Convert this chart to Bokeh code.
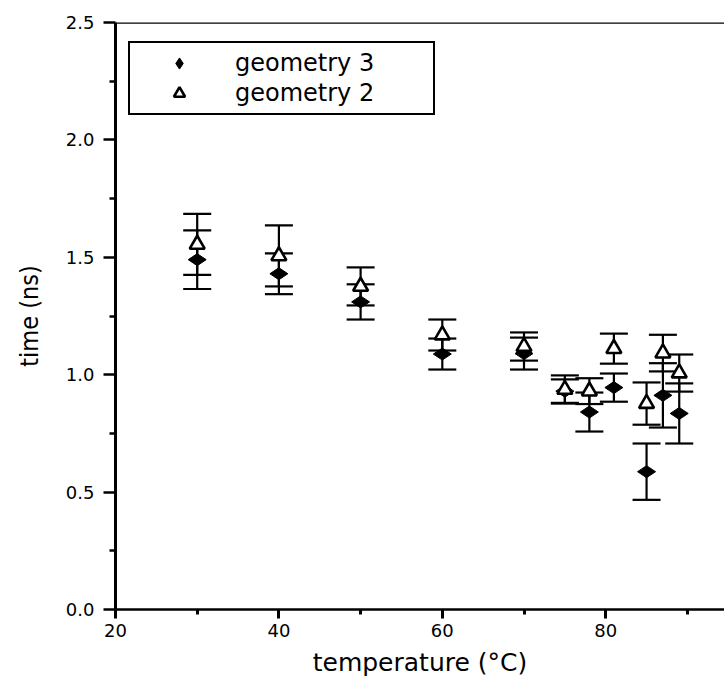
import math
from bokeh.plotting import figure
from bokeh.models import (ColumnDataSource, Whisker, TeeHead, Legend, LegendItem,
                          Span, FixedTicker, PrintfTickFormatter, Range1d)
from bokeh.embed import file_html
from bokeh.resources import INLINE

# ---- data ----
temperature = [30, 40, 50, 60, 70, 75, 78, 81, 85, 87, 89]
geom3_time = [1.49, 1.43, 1.31, 1.088, 1.09, 0.93, 0.841, 0.945, 0.587, 0.912, 0.835]
geom3_err = [0.125, 0.087, 0.075, 0.066, 0.068, 0.05, 0.083, 0.06, 0.12, 0.137, 0.128]
geom2_time = [1.555, 1.506, 1.376, 1.169, 1.12, 0.937, 0.93, 1.111, 0.877, 1.092, 1.007]
geom2_err = [0.13, 0.13, 0.081, 0.066, 0.06, 0.06, 0.055, 0.064, 0.09, 0.078, 0.079]

x_ticks = [20, 40, 60, 80]
x_minor = [30, 50, 70, 90]
y_ticks = [0.0, 0.5, 1.0, 1.5, 2.0, 2.5]
y_minor = [0.25, 0.75, 1.25, 1.75, 2.25]

FONT = "DejaVu Sans"

p = figure(frame_width=609, frame_height=587,
           min_border_left=115, min_border_right=0, min_border_top=22, min_border_bottom=69,
           x_range=Range1d(20, 94.54), y_range=Range1d(0, 2.5),
           output_backend="svg", toolbar_location=None,
           background_fill_color="white", border_fill_color="white")
p.outline_line_color = None
p.grid.visible = False

s3 = ColumnDataSource(dict(x=temperature, y=geom3_time,
                           lo=[v - e for v, e in zip(geom3_time, geom3_err)],
                           hi=[v + e for v, e in zip(geom3_time, geom3_err)]))
s2 = ColumnDataSource(dict(x=temperature, y=geom2_time,
                           lo=[v - e for v, e in zip(geom2_time, geom2_err)],
                           hi=[v + e for v, e in zip(geom2_time, geom2_err)]))

for src in (s3, s2):
    w = Whisker(source=src, base="x", lower="lo", upper="hi", dimension="height",
                line_color="black", line_width=2.2,
                upper_head=TeeHead(size=28, line_width=2.2, line_color="black"),
                lower_head=TeeHead(size=28, line_width=2.2, line_color="black"),
                level="underlay")
    p.add_layout(w)

r3 = p.scatter("x", "y", source=s3, marker="diamond", size=18, angle=math.pi / 2,
               fill_color="black", line_color="black", line_width=1)
r2 = p.scatter("x", "y", source=s2, marker="triangle", size=15,
               fill_color="white", line_color="black", line_width=2.6)

# top border
p.add_layout(Span(location=2.5, dimension="width", line_color="black", line_width=2.5,
                  line_alpha=1.0))

# axes
xa = p.xaxis[0]
xa.ticker = FixedTicker(ticks=x_ticks, minor_ticks=x_minor)
xa.axis_line_width = 2.5
xa.major_tick_line_width = 3
xa.minor_tick_line_width = 3
xa.major_tick_in = 0
xa.major_tick_out = 9
xa.minor_tick_in = 0
xa.minor_tick_out = 5
xa.major_label_standoff = 5
xa.major_label_text_font = FONT
xa.major_label_text_font_size = "18px"
xa.major_label_text_color = "black"
xa.axis_label = "temperature (°C)"
xa.axis_label_text_font = FONT
xa.axis_label_text_font_size = "25px"
xa.axis_label_text_font_style = "normal"
xa.axis_label_text_color = "black"
xa.axis_label_standoff = 8

ya = p.yaxis[0]
ya.ticker = FixedTicker(ticks=y_ticks, minor_ticks=y_minor)
ya.formatter = PrintfTickFormatter(format="%.1f")
ya.axis_line_width = 3
ya.major_tick_line_width = 2.5
ya.minor_tick_line_width = 2.5
ya.major_tick_in = 0
ya.major_tick_out = 12
ya.minor_tick_in = 0
ya.minor_tick_out = 6
ya.major_label_standoff = 9
ya.major_label_text_font = FONT
ya.major_label_text_font_size = "18px"
ya.major_label_text_color = "black"
ya.axis_label = "time (ns)"
ya.axis_label_text_font = "DejaVu Sans Condensed, Liberation Sans, sans-serif"
ya.axis_label_text_font_size = "25px"
ya.axis_label_text_font_style = "normal"
ya.axis_label_text_color = "black"
ya.axis_label_standoff = 19

legend = Legend(items=[LegendItem(label="geometry 3", renderers=[r3]),
                       LegendItem(label="geometry 2", renderers=[r2])],
                location=(13, 494), padding=6, spacing=2,
                glyph_width=86, glyph_height=28, label_height=28, label_width=192,
                label_standoff=13, label_text_font=FONT, label_text_font_size="24px",
                label_text_color="black", label_text_baseline="middle",
                border_line_color="black", border_line_width=2, border_line_alpha=1.0,
                background_fill_color="white", background_fill_alpha=1.0, margin=0)
p.add_layout(legend)

open("out.html", "w").write(file_html(p, INLINE))
